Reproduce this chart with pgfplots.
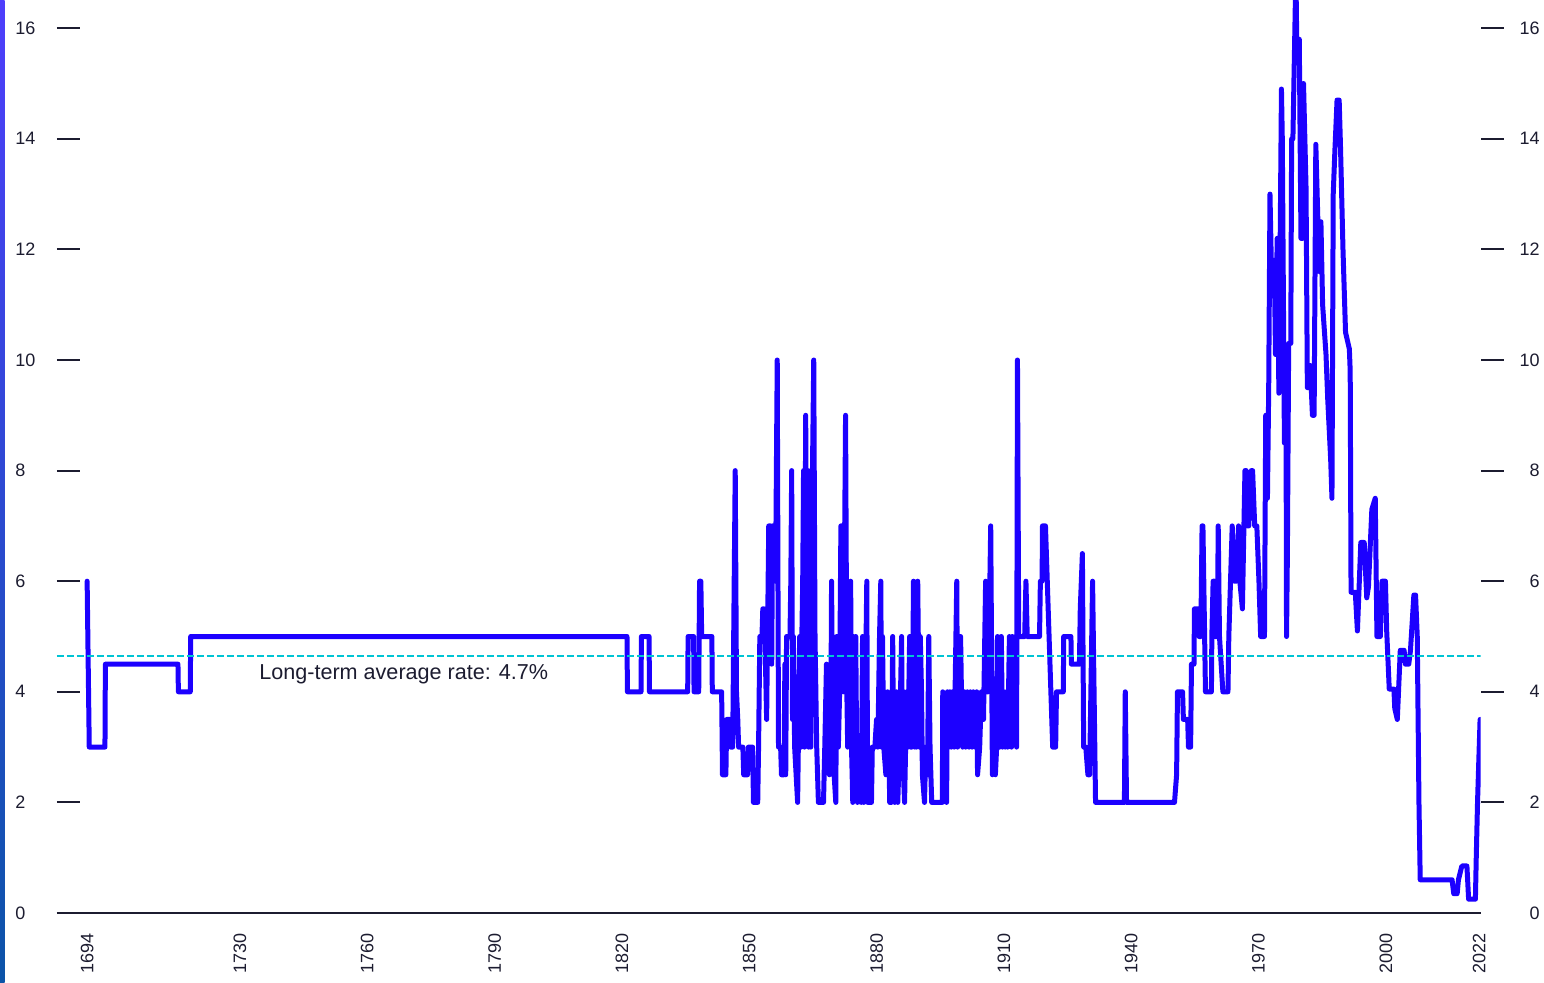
\documentclass[border=0pt]{standalone}
\usepackage{fontspec}
\setmainfont{Liberation Sans}
\usepackage{pgfplots}
\pgfplotsset{compat=1.18}
\definecolor{lineblue}{RGB}{28,0,255}
\definecolor{avgcyan}{RGB}{0,196,212}
\definecolor{txt}{RGB}{28,28,48}
\definecolor{bartop}{RGB}{78,62,252}
\definecolor{barbot}{RGB}{12,84,168}
\begin{document}
\begin{tikzpicture}
\pgfplotsset{
  common/.style={
    scale only axis, width=711.75pt, height=456.5pt,
    xmin=1686.9, xmax=2022.3, ymin=0, ymax=16.51,
    /pgf/number format/assume math mode=true,
    /pgf/number format/1000 sep={},
    ticklabel style={font=\fontsize{9}{9}\selectfont, text=txt, inner sep=0pt},
    major tick length=11.5pt,
  }
}
\begin{axis}[common, name=main, at={(0,0)}, anchor=south west,
  axis x line*=bottom, axis y line*=left,
  y axis line style={draw=none},
  x axis line style={-, line width=1pt, draw=txt},
  xtick={1694,1730,1760,1790,1820,1850,1880,1910,1940,1970,2000,2022},
  xtick style={draw=none},
  xticklabel style={rotate=90, anchor=east},
  xticklabel shift=10pt,
  ytick={0,2,...,16},
  ytick style={line width=1pt, draw=txt},
  tick align=inside,
  yticklabel style={anchor=west},
  yticklabel shift=21pt,
]
\addplot[no marks, line width=2.5pt, draw=lineblue, line join=round, line cap=round] coordinates {
(1694.0,6) (1694.5,3) (1698.2,3) (1698.3,4.5) (1715.4,4.5) (1715.5,4) (1718.3,4) (1718.4,5)
(1821.2,5) (1821.3,4) (1824.5,4) (1824.6,5) (1826.4,5) (1826.5,4) (1835.5,4) (1835.6,5)
(1836.9,5) (1837.0,4) (1838.1,4) (1838.3,6) (1838.6,6) (1838.8,5) (1841.2,5) (1841.3,4)
(1843.5,4) (1843.7,2.5) (1844.5,2.5) (1844.7,3.5) (1845.4,3.5) (1845.6,3) (1846.1,3) (1846.7,8)
(1847.0,4) (1847.3,3.5) (1847.5,3) (1848.5,3) (1848.7,2.5) (1849.6,2.5) (1849.8,3) (1850.8,3)
(1851.0,2) (1852.0,2) (1852.2,3) (1852.5,5) (1853.0,5) (1853.2,5.5) (1853.5,5.5) (1853.7,5)
(1854.1,3.5) (1854.6,7) (1855.0,7) (1855.3,4.5) (1855.5,7) (1856.0,7) (1856.2,6) (1856.6,10)
(1856.9,3) (1857.4,3) (1857.6,2.5) (1858.2,2.5) (1858.4,4.5) (1858.6,2.5) (1858.8,5) (1859.6,5)
(1859.8,6) (1860.0,8) (1860.2,3.5) (1860.4,5) (1860.7,3) (1861.4,2) (1861.9,5) (1862.2,3)
(1862.4,5) (1862.6,6) (1862.8,8) (1863.0,3) (1863.3,9) (1863.6,5) (1863.8,8) (1864.0,3)
(1864.2,7) (1864.5,3) (1864.9,8) (1865.2,10) (1865.5,5) (1865.9,3) (1866.3,2) (1867.5,2)
(1867.8,3) (1868.2,4.5) (1868.5,3) (1868.9,2.5) (1869.2,3) (1869.4,6) (1869.7,3) (1870.0,2.5)
(1870.4,2) (1870.6,5) (1871.0,3) (1871.3,4) (1871.6,7) (1872.0,7) (1872.2,4) (1872.5,7)
(1872.7,9) (1873.0,4) (1873.2,3) (1873.5,5) (1873.9,6) (1874.1,3) (1874.4,2) (1874.6,5)
(1874.9,3.5) (1875.1,5) (1875.3,3) (1875.5,2) (1876.0,3) (1876.4,2) (1876.7,5) (1877.0,2)
(1877.2,3) (1877.7,6) (1877.9,2) (1878.8,2) (1879.0,3) (1879.6,3) (1880.0,3.5) (1880.3,3)
(1880.7,5) (1881.0,6) (1881.2,3) (1881.4,5) (1881.7,3) (1882.2,2.5) (1882.6,4) (1882.9,3)
(1883.1,2) (1883.5,2) (1883.8,5) (1884.0,3) (1884.3,2) (1884.7,4) (1885.0,2) (1885.4,3)
(1885.9,5) (1886.1,3) (1886.6,2) (1887.1,4) (1887.4,3) (1887.8,5) (1888.0,3) (1888.3,3)
(1888.5,4) (1888.7,6) (1889.0,3) (1889.2,5) (1889.4,3) (1889.7,6) (1890.1,3) (1890.3,5)
(1890.6,4) (1890.8,2.5) (1891.3,2) (1891.6,3) (1892.0,2.5) (1892.3,5) (1892.6,3) (1893.0,2)
(1895.5,2) (1895.6,4) (1896.0,3) (1896.5,2) (1896.7,4) (1897.0,3) (1897.3,4) (1897.6,3)
(1897.9,4) (1898.3,3) (1898.9,6) (1899.1,3) (1899.4,4) (1899.8,5) (1900.0,4) (1900.3,3)
(1900.7,4) (1901.0,3) (1901.4,4) (1901.8,3) (1902.1,4) (1902.5,3) (1902.8,4) (1903.2,3)
(1903.6,4) (1903.8,2.5) (1904.3,3) (1904.7,4) (1905.2,3.5) (1905.7,6) (1906.0,4) (1906.3,4)
(1906.9,7) (1907.3,2.5) (1907.7,3) (1908.0,2.5) (1908.3,3) (1908.5,5) (1909.0,3) (1909.4,5)
(1909.7,3) (1910.0,4) (1910.3,3) (1910.6,4) (1910.9,3) (1911.3,5) (1911.6,4.5) (1911.8,3)
(1912.0,5) (1912.5,4.5) (1912.8,5) (1913.0,3) (1913.2,10) (1913.5,5) (1914.9,5) (1915.2,6)
(1915.5,5) (1918.4,5) (1918.6,6) (1919.0,6) (1919.1,7) (1919.8,7) (1921.5,3) (1922.2,3)
(1922.4,4) (1924.0,4) (1924.1,5) (1925.8,5) (1925.9,4.5) (1927.8,4.5) (1928.0,5.5) (1928.5,6.5)
(1928.8,3) (1929.3,3) (1929.8,2.5) (1930.2,2.5) (1930.9,6) (1931.6,2) (1938.4,2) (1938.6,4)
(1938.9,2) (1950.2,2) (1950.7,2.5) (1950.9,4) (1952.1,4) (1952.3,3.5) (1953.3,3.5) (1953.5,3)
(1954.0,3) (1954.2,4.5) (1954.8,4.5) (1954.9,5.5) (1955.8,5.5) (1956.0,5) (1956.4,5) (1956.7,7)
(1956.9,7) (1957.5,4) (1958.9,4) (1959.0,5) (1959.3,6) (1959.6,6) (1959.8,5) (1960.3,5)
(1960.5,7) (1960.8,5) (1961.2,4.5) (1961.6,4) (1962.8,4) (1963.0,5) (1963.8,7) (1964.3,6)
(1964.8,6) (1965.3,7) (1965.6,6) (1966.2,5.5) (1966.8,8) (1967.1,8) (1967.4,7) (1967.7,7)
(1968.3,8) (1968.6,8) (1969.1,7) (1969.6,7) (1970.1,6) (1970.5,5) (1971.4,5) (1971.7,9)
(1971.9,8) (1972.1,7.5) (1972.4,9.5) (1972.7,13) (1973.0,11.8) (1973.7,11.8) (1974.0,10.1) (1974.4,12.2)
(1974.8,9.4) (1975.4,14.9) (1975.6,14) (1976.1,8.5) (1976.5,8.5) (1976.6,5) (1976.8,6.5) (1977.1,10.3)
(1977.6,10.3) (1977.8,14) (1978.1,14) (1978.8,17) (1979.0,15.8) (1979.6,15.8) (1980.0,12.2) (1980.4,12.2)
(1980.6,15) (1981.2,13.1) (1981.5,9.5) (1981.9,9.5) (1982.2,9.9) (1982.7,9) (1983.1,9) (1983.5,13.9)
(1984.3,11.6) (1984.7,12.5) (1985.1,11) (1985.9,10.1) (1986.3,9.3) (1987.0,8.2) (1987.3,7.5) (1987.6,13)
(1988.0,13.8) (1988.5,14.7) (1989.0,14.7) (1989.3,13.9) (1989.9,12) (1990.5,10.5) (1991.4,10.2) (1991.6,9.8)
(1991.8,5.8) (1992.8,5.8) (1993.3,5.1) (1994.1,6.7) (1994.9,6.7) (1995.5,5.7) (1995.9,5.9) (1996.7,7.3)
(1997.5,7.5) (1997.9,5) (1998.7,5) (1999.1,6) (1999.9,6) (2000.2,5.1) (2000.8,4.05) (2001.9,4.05)
(2002.1,3.7) (2002.7,3.5) (2003.4,4.75) (2004.3,4.75) (2004.6,4.5) (2005.4,4.5) (2005.8,4.75) (2006.6,5.75)
(2007.0,5.75) (2007.4,5) (2007.8,2) (2008.1,0.6) (2015.6,0.6) (2016.0,0.35) (2016.8,0.35) (2017.1,0.6)
(2017.9,0.85) (2019.1,0.85) (2019.5,0.25) (2021.1,0.25) (2021.3,1.0) (2021.6,2.0) (2022.2,3.5)
};
\addplot[no marks, line width=0.75pt, draw=avgcyan, dash pattern=on 3.3pt off 1.7pt] coordinates {(1686.9,4.65) (2022.3,4.65)};
\node[font=\fontsize{10.8}{13}\selectfont, text=txt] at (axis cs:1768.6,4.32) {Long-term average rate: 4.7\%};
\end{axis}
\begin{axis}[common, at={(main.south west)}, anchor=south west,
  axis x line=none, axis y line*=right,
  y axis line style={draw=none},
  ytick={2,4,...,16},
  extra y ticks={0},
  extra y tick style={major tick length=0pt, yticklabel shift=29.75pt},
  ytick style={line width=1pt, draw=txt},
  tick align=outside,
  yticklabel style={anchor=east},
  yticklabel shift=18.25pt,
]
\addplot[draw=none] coordinates {(1700,1)};
\end{axis}
\pgfresetboundingbox
\path (main.south west) ++(-28.5pt,-34.5pt) coordinate (bl);
\shade[top color=bartop, bottom color=barbot] (bl) rectangle ++(2.3pt,491pt);
\path[use as bounding box] (bl) rectangle ++(772pt,491pt);
\end{tikzpicture}
\end{document}
